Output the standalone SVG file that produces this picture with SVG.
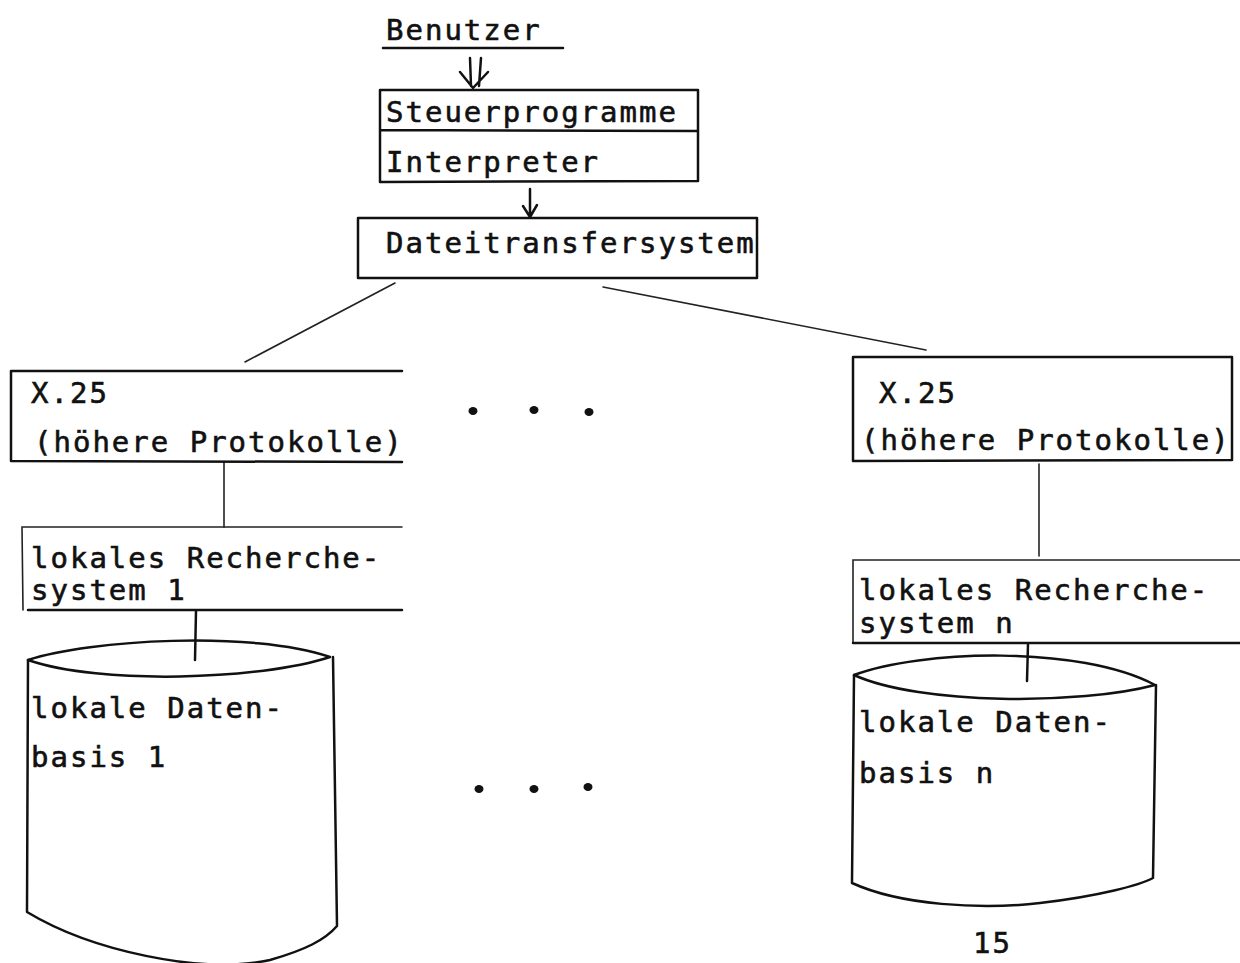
<svg xmlns="http://www.w3.org/2000/svg" width="1240" height="963" viewBox="0 0 1240 963">
  <style>
    .t { font-family: "DejaVu Sans Mono", "Liberation Mono", monospace; font-size: 29px; letter-spacing: 2px; fill: #111; stroke: #111; stroke-width: 0.6px; }
    .ln { fill: none; stroke: #111; stroke-width: 2.5; stroke-linecap: round; stroke-linejoin: round; }
    .thin { fill: none; stroke: #222; stroke-width: 1.6; stroke-linecap: round; }
    .dot { fill: #111; }
  </style>
  <rect width="1240" height="963" fill="#ffffff"/>

  <g id="connectors">
    <!-- user to control programs: double arrow -->
    <path class="ln" d="M470 58 L471 86 M481 58 L479 86 M460 72 L473 88 L488 72"/>
    <!-- interpreter to file transfer system -->
    <path class="ln" d="M530 189 L530 216 M523 206 L530 217 L537 205"/>
    <!-- fan-out from file transfer system -->
    <path class="thin" d="M395 283 L245 362"/>
    <path class="thin" d="M603 287 L926 350"/>
    <!-- vertical links, left column -->
    <path class="thin" d="M224 462 L224 527"/>
    <path class="ln" d="M196 611 L195 660"/>
    <!-- vertical links, right column -->
    <path class="thin" d="M1039 464 L1039 556"/>
    <path class="ln" d="M1028 644 L1027 681"/>
  </g>

  <g id="benutzer">
    <text class="t" x="386" y="40">Benutzer</text>
    <path class="ln" d="M383 48 L563 48"/>
  </g>

  <g id="steuerprogramme">
    <path class="ln" d="M380 90 L698 90 L698 181 L380 182 Z M380 130 L698 131"/>
    <text class="t" x="386" y="122">Steuerprogramme</text>
    <text class="t" x="386" y="172">Interpreter</text>
  </g>

  <g id="dateitransfersystem">
    <path class="ln" d="M358 218 L757 218 L757 278 L358 278 Z"/>
    <text class="t" x="386" y="253">Dateitransfersystem</text>
  </g>

  <g id="x25-left">
    <path class="ln" d="M402 371 L11 371 L11 461 L402 462"/>
    <text class="t" x="31" y="403">X.25</text>
    <text class="t" x="34" y="452">(höhere Protokolle)</text>
  </g>

  <g id="recherche-1">
    <path class="thin" d="M402 527 L22 527 L23 610"/>
    <path class="ln" d="M28 610 L402 610"/>
    <text class="t" x="31" y="568">lokales Recherche-</text>
    <text class="t" x="31" y="600">system 1</text>
  </g>

  <g id="datenbasis-1">
    <path class="ln" d="M28 660 C90 640 250 630 330 657 C260 680 100 685 28 660 Z"/>
    <path class="ln" d="M28 660 L27 912 C90 950 200 975 270 960 C305 950 325 940 337 926 L333 657"/>
    <text class="t" x="31" y="718">lokale Daten-</text>
    <text class="t" x="31" y="767">basis 1</text>
  </g>

  <g id="x25-right">
    <path class="ln" d="M853 357 L1232 357 L1232 460 L853 461 Z"/>
    <text class="t" x="879" y="403">X.25</text>
    <text class="t" x="861" y="450">(höhere Protokolle)</text>
  </g>

  <g id="recherche-n">
    <path class="thin" d="M1240 560 L853 560 L853 643"/>
    <path class="ln" d="M853 643 L1240 643"/>
    <text class="t" x="859" y="600">lokales Recherche-</text>
    <text class="t" x="859" y="633">system n</text>
  </g>

  <g id="datenbasis-n">
    <path class="ln" d="M854 675 C920 650 1080 645 1155 685 C1080 705 920 705 854 675 Z"/>
    <path class="ln" d="M854 675 L852 883 C900 905 980 910 1040 903 C1100 896 1140 885 1153 878 L1156 685"/>
    <text class="t" x="859" y="732">lokale Daten-</text>
    <text class="t" x="859" y="783">basis n</text>
  </g>

  <g id="ellipsis-top">
    <ellipse class="dot" cx="473" cy="411" rx="4.5" ry="4"/>
    <ellipse class="dot" cx="534" cy="410" rx="4.5" ry="4"/>
    <ellipse class="dot" cx="589" cy="412" rx="4.5" ry="4"/>
  </g>
  <g id="ellipsis-bottom">
    <ellipse class="dot" cx="479" cy="789" rx="4.5" ry="4"/>
    <ellipse class="dot" cx="534" cy="789" rx="4.5" ry="4"/>
    <ellipse class="dot" cx="588" cy="787" rx="4.5" ry="4"/>
  </g>

  <g id="page-number">
    <text class="t" x="973" y="953">15</text>
  </g>
</svg>
